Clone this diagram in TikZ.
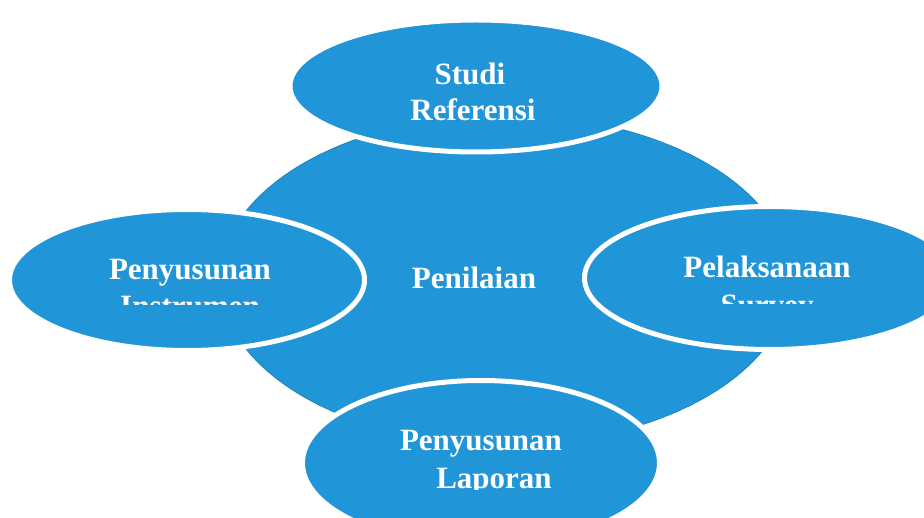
\documentclass[tikz,border=0pt]{standalone}
\usepackage{fontspec}
\usetikzlibrary{shapes.geometric}
\newfontfamily\labfont{Liberation Serif}
\definecolor{bubble}{RGB}{32,150,216}
\begin{document}
\begin{tikzpicture}[x=1pt,y=-1pt,
  blob/.style={ellipse, fill=bubble, inner sep=0pt},
  ring/.style={blob, draw=white, line width=5pt},
  lab/.style={text=white, font=\labfont\bfseries\fontsize{31}{36}\selectfont, anchor=base, inner sep=0pt}]
\useasboundingbox[fill=white] (0,0) rectangle (924,518);
% central
\node[blob, draw=bubble!85!black, line width=0.7pt, minimum width=570pt, minimum height=330pt] (pen) at (505,280) {};
% outer
\node[ring, minimum width=372pt, minimum height=132pt] (top) at (476,86) {};
\node[ring, minimum width=355pt, minimum height=141pt] (left) at (187,280) {};
\node[ring, minimum width=371pt, minimum height=143pt] (right) at (770,278) {};
\node[ring, minimum width=357pt, minimum height=165pt] (bottom) at (481,463) {};
% labels
\node[lab] (t1) at (470,85) {Studi};
\node[lab] (t2) at (473,121) {Referensi};
\node[lab] (c1) at (474,289) {Penilaian};
\node[lab] (l1) at (190,280) {Penyusunan};
\node[lab] (r1) at (767,278) {Pelaksanaan};
\node[lab] (b1) at (481,450) {Penyusunan};
\begin{scope}
  \clip (0,0) rectangle (924,305);
  \node[lab] (l2) at (190,317) {Instrumen};
\end{scope}
\begin{scope}
  \clip (0,0) rectangle (924,304);
  \node[lab] (r2) at (767,316) {Survey};
\end{scope}
\begin{scope}
  \clip (0,0) rectangle (924,489);
  \node[lab] (b2) at (494,488) {Laporan};
\end{scope}
\end{tikzpicture}
\end{document}
